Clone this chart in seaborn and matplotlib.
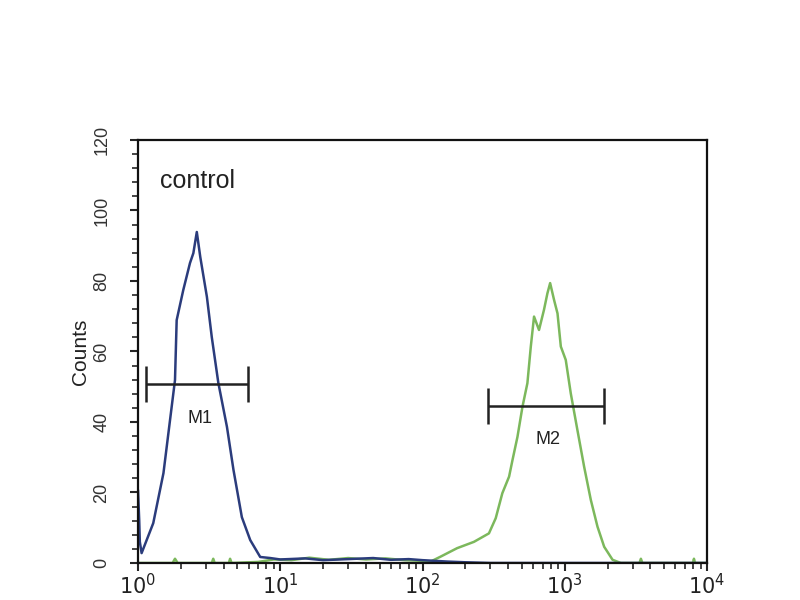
import numpy as np
import pandas as pd
import matplotlib
matplotlib.use("Agg")
import matplotlib.pyplot as plt
from matplotlib.ticker import FixedLocator, MultipleLocator, LogLocator, NullFormatter
import seaborn as sns

# control histogram (blue)
blue_x = [1.00, 1.02, 1.03, 1.06, 1.28, 1.51, 1.68, 1.82, 1.87, 2.08, 2.32, 2.45, 2.59,
          2.74, 3.05, 3.30, 3.67, 4.22, 4.69, 5.37, 6.15, 7.23, 8.51,
          10, 15, 20, 30, 45, 60, 80, 100, 150, 200, 300, 10000]
blue_y = [20.7, 12.0, 6.0, 2.8, 11.3, 25.5, 40.6, 51.9, 68.9, 77.4, 85.1, 87.9, 93.9,
          86.8, 75.5, 64.1, 51.1, 38.6, 26.4, 13.0, 6.5, 1.7, 1.4,
          1.0, 1.3, 0.8, 1.1, 1.4, 0.9, 1.1, 0.8, 0.4, 0.2, 0.0, 0.0]

# stained sample histogram (green)
green_x = [1.00, 1.75, 1.82, 1.90, 3.30, 3.38, 3.46, 4.35, 4.44, 4.55,
           7, 9, 12, 16, 22, 30, 40, 55, 75, 100,
           114, 134, 175, 230, 293, 327, 364, 406, 429, 465, 504, 546, 577,
           608, 659, 714, 755, 789, 841, 889, 938, 1016, 1102, 1227, 1368,
           1524, 1698, 1892, 2168, 2477, 3350, 3428, 3510, 7950, 8091, 8230, 10000]
green_y = [0.0, 0.0, 1.2, 0.0, 0.0, 1.2, 0.0, 0.0, 1.2, 0.0,
           0.3, 1.0, 0.8, 1.5, 0.9, 1.4, 1.0, 1.3, 0.8, 0.6,
           0.4, 1.8, 4.2, 6.0, 8.4, 12.7, 19.8, 24.5, 29.2, 35.8, 44.3, 51.0, 61.4,
           69.9, 66.1, 71.8, 76.5, 79.4, 74.6, 70.8, 61.4, 57.6, 48.1, 37.7, 27.3,
           17.9, 10.3, 4.6, 0.9, 0.0, 0.0, 1.2, 0.0, 0.0, 1.2, 0.0, 0.0]

# marker gates
gate_names = ["M1", "M2"]
gate_lo = [1.14, 287]
gate_hi = [5.95, 1883]
gate_level = [50.8, 44.5]
gate_label_x = [2.73, 761]
gate_label_y = [41.1, 34.9]

x_ticks = [1, 10, 100, 1000, 10000]
x_tick_labels = ["$10^{0}$", "$10^{1}$", "$10^{2}$", "$10^{3}$", "$10^{4}$"]
y_ticks = [0, 20, 40, 60, 80, 100, 120]

sns.set_style("ticks")
plt.rcParams["font.family"] = ["Liberation Sans", "DejaVu Sans"]

fig = plt.figure(figsize=(8, 6), dpi=100)
ax = fig.add_axes([0.1725, 0.0617, 0.7113, 0.705])

blue_df = pd.DataFrame({"FL": blue_x, "Counts": blue_y})
green_df = pd.DataFrame({"FL": green_x, "Counts": green_y})

sns.lineplot(data=green_df, x="FL", y="Counts", ax=ax, color="#7cb85c",
             linewidth=1.8, sort=False)
sns.lineplot(data=blue_df, x="FL", y="Counts", ax=ax, color="#2b3c7c",
             linewidth=1.8, sort=False)

for name, lo, hi, lev, lx, ly in zip(gate_names, gate_lo, gate_hi, gate_level,
                                      gate_label_x, gate_label_y):
    ax.hlines(lev, lo, hi, color="#222222", linewidth=1.8)
    ax.vlines([lo, hi], lev - 5.2, lev + 5.2, color="#222222", linewidth=1.8)
    ax.text(lx, ly, name, ha="center", va="center", fontsize=13, color="#222222")

ax.text(1.43, 108.4, "control", ha="left", va="center", fontsize=18, color="#222222")

ax.set_xscale("log")
ax.set_xlim(1, 10000)
ax.set_ylim(0, 120)
ax.xaxis.set_major_locator(FixedLocator(x_ticks))
ax.set_xticklabels(x_tick_labels, fontsize=15, color="#222222")
ax.xaxis.set_minor_locator(LogLocator(base=10, subs=np.arange(2, 10)))
ax.xaxis.set_minor_formatter(NullFormatter())
ax.set_yticks(y_ticks)
ax.set_yticklabels([str(v) for v in y_ticks], fontsize=13, color="#333333",
                   rotation=90, va="center")
ax.yaxis.set_minor_locator(MultipleLocator(4))

ax.tick_params(axis="both", which="major", length=6, width=1.5, direction="out")
ax.tick_params(axis="both", which="minor", length=4, width=1.2, direction="out")
ax.tick_params(axis="y", pad=14)
ax.tick_params(axis="x", pad=1)

for side in ["top", "right", "bottom", "left"]:
    ax.spines[side].set_visible(True)
    ax.spines[side].set_linewidth(1.6)
    ax.spines[side].set_color("#111111")

ax.set_xlabel("")
ax.set_ylabel("Counts", fontsize=15, color="#222222", labelpad=2)

fig.savefig("out.png", dpi=100, facecolor="white")
